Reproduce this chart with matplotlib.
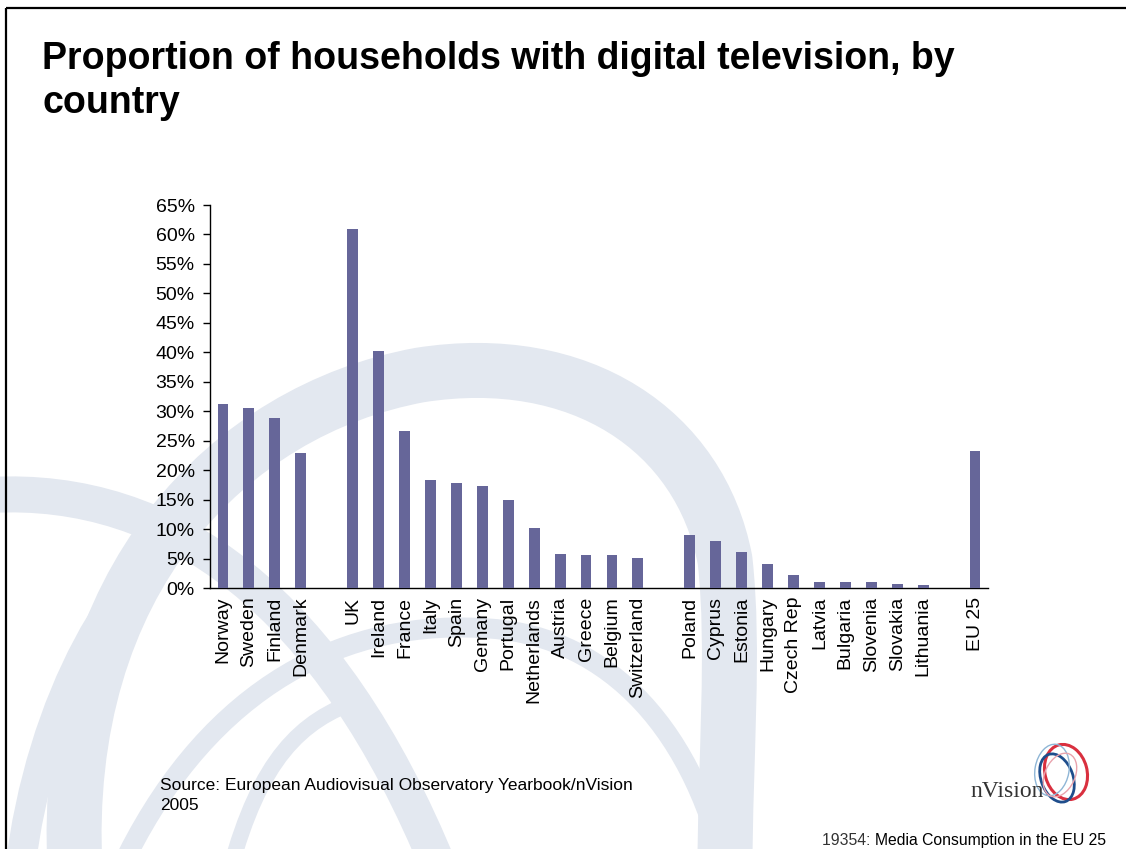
import matplotlib
matplotlib.use("Agg")
import matplotlib.pyplot as plt
from matplotlib.path import Path
from matplotlib.patches import PathPatch, Ellipse
from matplotlib.ticker import PercentFormatter, MultipleLocator

# ---- data -------------------------------------------------------------
nordic = ["Norway", "Sweden", "Finland", "Denmark"]
nordic_share = [31.3, 30.6, 28.8, 23.0]

western = ["UK", "Ireland", "France", "Italy", "Spain", "Gemany", "Portugal",
           "Netherlands", "Austria", "Greece", "Belgium", "Switzerland"]
western_share = [60.9, 40.3, 26.7, 18.4, 17.9, 17.4, 14.9, 10.3, 5.9, 5.7, 5.6, 5.2]

eastern = ["Poland", "Cyprus", "Estonia", "Hungary", "Czech Rep", "Latvia",
           "Bulgaria", "Slovenia", "Slovakia", "Lithuania"]
eastern_share = [9.1, 8.0, 6.2, 4.2, 2.2, 1.1, 1.1, 1.1, 0.8, 0.6]

eu = ["EU 25"]
eu_share = [23.2]

groups = [(nordic, nordic_share), (western, western_share),
          (eastern, eastern_share), (eu, eu_share)]

title = "Proportion of households with digital television, by\ncountry"
source = "Source: European Audiovisual Observatory Yearbook/nVision\n2005"
footer_code = "19354: "
footer_text = "Media Consumption in the EU 25"

# ---- layout -----------------------------------------------------------
W, H = 1126, 849
fig = plt.figure(figsize=(W / 100, H / 100), dpi=100)
fig.patch.set_facecolor("white")

# background layer in pixel coordinates (y downwards)
bg = fig.add_axes([0, 0, 1, 1], zorder=0)
bg.set_xlim(0, W)
bg.set_ylim(H, 0)
bg.axis("off")

pale = "#e3e8f0"
PX = 0.72  # points per pixel at 100 dpi


def band(points, width_px):
    codes = [Path.MOVETO] + [Path.CURVE4] * (len(points) - 1)
    bg.add_patch(PathPatch(Path(points, codes), facecolor="none", edgecolor=pale,
                           lw=width_px * PX, capstyle="butt", joinstyle="round"))


# decorative swirl
band([(75, 870), (60, 580), (230, 410), (420, 375),
      (580, 350), (700, 430), (725, 560),
      (735, 650), (725, 760), (725, 870)], 55)
band([(-10, 495), (170, 485), (330, 600), (440, 870)], 36)
band([(120, 870), (200, 700), (330, 620), (480, 628),
      (600, 632), (690, 720), (725, 870)], 20)
band([(20, 870), (40, 700), (120, 560), (200, 520)], 30)
band([(230, 870), (260, 760), (300, 720), (360, 700)], 16)

# slide frame
bg.plot([6, W], [8, 8], color="black", lw=1.6, solid_capstyle="butt")
bg.plot([6, 6], [8, H], color="black", lw=1.6, solid_capstyle="butt")

# logo
for (cx, cy, w, h, ang, col, lw) in [
        (1066, 772, 42, 56, -15, "#d9303f", 2.2),
        (1057, 778, 32, 50, -20, "#1f4e8c", 2.0),
        (1052, 770, 34, 52, 10, "#8fb6d6", 1.0),
        (1060, 775, 30, 46, 25, "#e9a3ad", 1.0)]:
    bg.add_patch(Ellipse((cx, cy), w, h, angle=ang, fill=False, edgecolor=col, lw=lw))
bg.text(970, 797, "nVision", family="Liberation Serif", fontsize=17,
        color="#333333", ha="left", va="baseline")

# ---- chart ------------------------------------------------------------
left, right, top, bottom = 210, 988, 205, 588.3
ax = fig.add_axes([left / W, 1 - bottom / H, (right - left) / W, (bottom - top) / H],
                  zorder=2)
ax.patch.set_alpha(0)

labels, values, positions = [], [], []
pos = 0
for names, shares in groups:
    for n, s in zip(names, shares):
        labels.append(n)
        values.append(s / 100)
        positions.append(pos)
        pos += 1
    pos += 1  # blank slot between groups

ax.bar(positions, values, width=0.42, color="#666699", zorder=3)
ax.set_xlim(-0.5, positions[-1] + 0.5)
ax.set_ylim(0, 0.65)
ax.yaxis.set_major_locator(MultipleLocator(0.05))
ax.yaxis.set_major_formatter(PercentFormatter(1.0, decimals=0))
ax.set_xticks(positions)
ax.set_xticklabels(labels, rotation=90, family="Liberation Sans", fontsize=14)
for t in ax.get_yticklabels():
    t.set_family("Liberation Sans")
    t.set_fontsize(14)
ax.tick_params(axis="x", length=0, pad=6)
ax.tick_params(axis="y", length=5, width=1, pad=6, direction="out")
for side in ("top", "right"):
    ax.spines[side].set_visible(False)
for side in ("left", "bottom"):
    ax.spines[side].set_linewidth(1)
    ax.spines[side].set_color("black")

# ---- text -------------------------------------------------------------
fig.text(42 / W, 1 - 41 / H, title, family="Liberation Sans", fontweight="bold",
         fontsize=27, ha="left", va="top", linespacing=1.3)
fig.text(160 / W, 1 - 778 / H, source, family="Liberation Sans", fontsize=12.5,
         ha="left", va="top", linespacing=1.45)

foot = fig.text(1106 / W, 1 - 845 / H, footer_text, family="Liberation Sans",
                fontsize=11.3, ha="right", va="baseline", color="black")
renderer = fig.canvas.get_renderer()
foot_left = foot.get_window_extent(renderer).x0
fig.text(foot_left / W, 1 - 845 / H, footer_code, family="Liberation Sans",
         fontsize=11.3, ha="right", va="baseline", color="#333333")

fig.savefig("out.png", dpi=100)
